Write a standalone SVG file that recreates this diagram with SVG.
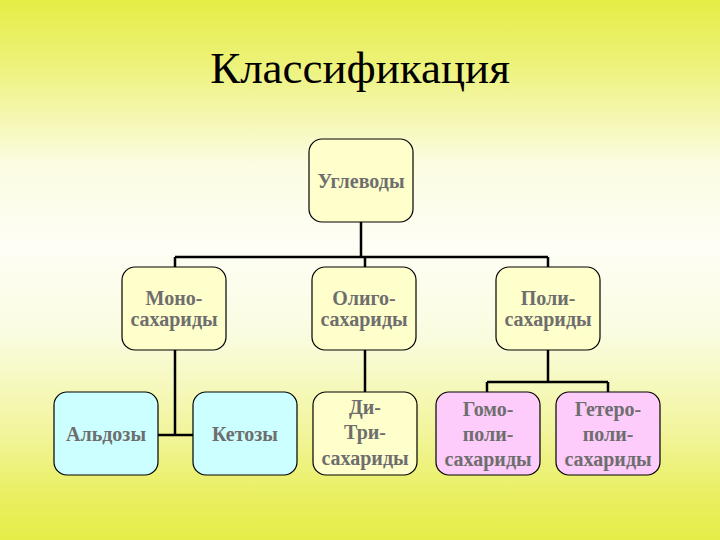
<svg xmlns="http://www.w3.org/2000/svg" width="720" height="540" viewBox="0 0 720 540">
<defs>
<linearGradient id="bg" x1="0" y1="0" x2="0" y2="1">
<stop offset="0" stop-color="#e5ed45"/>
<stop offset="0.12" stop-color="#edf27a"/>
<stop offset="0.3" stop-color="#fbfce0"/>
<stop offset="0.45" stop-color="#fefef6"/>
<stop offset="0.62" stop-color="#fafce0"/>
<stop offset="0.8" stop-color="#f2f59c"/>
<stop offset="0.92" stop-color="#e9ef60"/>
<stop offset="1" stop-color="#e5ed48"/>
</linearGradient>
</defs>
<style>
.box{stroke:#000;stroke-width:1.2}
.y{fill:#ffffcc}
.c{fill:#ccffff}
.p{fill:#fdccfb}
.t{font-family:"Liberation Serif","Times New Roman",serif;font-weight:bold;font-size:20px;fill:#6e6e6e;text-anchor:middle}
.title{font-family:"Liberation Serif","Times New Roman",serif;font-size:45px;fill:#000;text-anchor:middle}
.ln{stroke:#000;stroke-width:2.5;fill:none}
</style>
<rect x="0" y="0" width="720" height="540" fill="url(#bg)"/>
<text class="title" x="360" y="83">Классификация</text>
<g id="connectors">
<path class="ln" d="M361 222 V257 M175 257 H548 M175 257 V267 M365 257 V267 M548 257 V267"/>
<path class="ln" d="M175 350 V435 M157 435 H193"/>
<path class="ln" d="M365 350 V392"/>
<path class="ln" d="M548 350 V382 M487 382 H608 M487 382 V392 M608 382 V392"/>
</g>
<g id="uglevody">
<rect class="box y" x="309" y="139" width="104" height="83" rx="13"/>
<text class="t" x="361" y="188">Углеводы</text>
</g>
<g id="mono">
<rect class="box y" x="122" y="267" width="104" height="83" rx="13"/>
<text class="t" x="174" y="305">Моно-</text>
<text class="t" x="174" y="326">сахариды</text>
</g>
<g id="oligo">
<rect class="box y" x="312" y="267" width="104" height="83" rx="13"/>
<text class="t" x="364" y="305">Олиго-</text>
<text class="t" x="364" y="326">сахариды</text>
</g>
<g id="poli">
<rect class="box y" x="496" y="267" width="104" height="83" rx="13"/>
<text class="t" x="548" y="305">Поли-</text>
<text class="t" x="548" y="326">сахариды</text>
</g>
<g id="aldozy">
<rect class="box c" x="54" y="392" width="104" height="83" rx="13"/>
<text class="t" x="106" y="441">Альдозы</text>
</g>
<g id="ketozy">
<rect class="box c" x="193" y="392" width="104" height="83" rx="13"/>
<text class="t" x="245" y="441">Кетозы</text>
</g>
<g id="ditri">
<rect class="box y" x="313" y="392" width="104" height="83" rx="13"/>
<text class="t" x="365" y="414">Ди-</text>
<text class="t" x="365" y="439">Три-</text>
<text class="t" x="365" y="465">сахариды</text>
</g>
<g id="gomo">
<rect class="box p" x="436" y="392" width="104" height="83" rx="13"/>
<text class="t" x="488" y="416">Гомо-</text>
<text class="t" x="488" y="441">поли-</text>
<text class="t" x="488" y="466">сахариды</text>
</g>
<g id="getero">
<rect class="box p" x="556" y="392" width="104" height="83" rx="13"/>
<text class="t" x="608" y="416">Гетеро-</text>
<text class="t" x="608" y="441">поли-</text>
<text class="t" x="608" y="466">сахариды</text>
</g>
</svg>
